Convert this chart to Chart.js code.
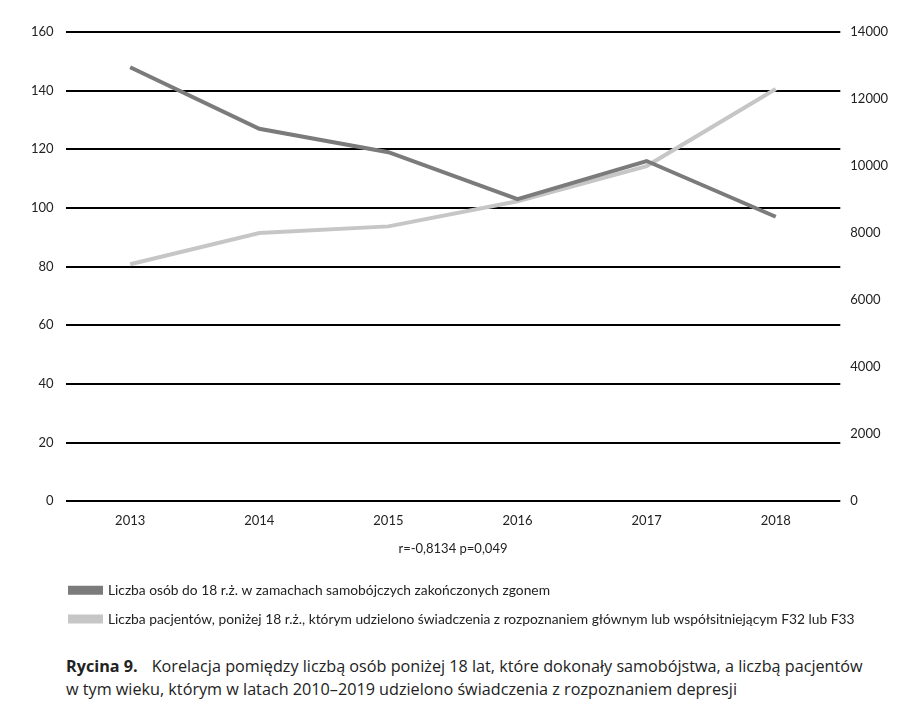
<!DOCTYPE html>
<html>
<head>
<meta charset="utf-8">
<script src="https://cdn.jsdelivr.net/npm/chart.js@4.4.0/dist/chart.umd.min.js"></script>
<style>
  body { margin: 0; background: #fff; }
  #wrap { position: absolute; left: 0; top: 0; width: 900px; height: 636px; }
  #caption {
    position: absolute; left: 66px; top: 655px; width: 830px;
    font-family: "Open Sans", sans-serif; font-size: 16.2px; line-height: 23px; color: #222;
  }
  #caption b { margin-right: 14px; }
</style>
</head>
<body>
<div id="wrap"><canvas id="chart"></canvas></div>
<div id="caption"><b>Rycina 9.</b>Korelacja pomiędzy liczbą osób poniżej 18 lat, które dokonały samobójstwa, a liczbą pacjentów<br>w tym wieku, którym w latach 2010–2019 udzielono świadczenia z rozpoznaniem depresji</div>
<script>
const years = ["2013", "2014", "2015", "2016", "2017", "2018"];
const suicides = [148, 127, 119, 103, 116, 97];
const patients = [7070, 8000, 8200, 8950, 10000, 12300];
const leftTicks = [0, 20, 40, 60, 80, 100, 120, 140, 160];
const rightTicks = [0, 2000, 4000, 6000, 8000, 10000, 12000, 14000];

const tickFont = { family: "Lato, sans-serif", size: 13 };
const legendFont = { family: "Lato, sans-serif", size: 13.8 };

// move the legend block right so its samples line up under the plot
const legendShift = {
  id: "legendShift",
  afterLayout(chart) {
    const lg = chart.legend;
    const dx = 70 - (lg.left + lg.options.labels.padding);
    lg.left += dx;
    lg.right += dx;
  },
};

const ctx = document.getElementById("chart").getContext("2d");
new Chart(ctx, {
  type: "line",
  data: {
    labels: years,
    datasets: [
      {
        label: "Liczba osób do 18 r.ż. w zamachach samobójczych zakończonych zgonem",
        data: suicides,
        yAxisID: "y",
        borderColor: "#7b7b7b",
        backgroundColor: "#7b7b7b",
        borderWidth: 4,
        pointRadius: 0,
        tension: 0,
      },
      {
        label: "Liczba pacjentów, poniżej 18 r.ż., którym udzielono świadczenia z rozpoznaniem głównym lub współsitniejącym F32 lub F33",
        data: patients,
        yAxisID: "y1",
        borderColor: "#c6c6c6",
        backgroundColor: "#c6c6c6",
        borderWidth: 4,
        pointRadius: 0,
        tension: 0,
      },
    ],
  },
  plugins: [legendShift],
  options: {
    responsive: true,
    maintainAspectRatio: false,
    animation: false,
    layout: { padding: { top: 32, left: 19, right: 2, bottom: 0 } },
    plugins: {
      tooltip: { enabled: false },
      legend: {
        position: "bottom",
        align: "start",
        labels: {
          font: legendFont,
          color: "#222",
          boxWidth: 31,
          boxHeight: 5,
          padding: 15,
        },
      },
    },
    scales: {
      x: {
        offset: true,
        grid: { display: false, drawTicks: false },
        border: { display: false },
        ticks: { font: tickFont, color: "#222", padding: 12 },
        title: {
          display: true,
          text: "r=-0,8134 p=0,049",
          font: tickFont,
          color: "#222",
          padding: { top: 0, bottom: 12 },
        },
      },
      y: {
        position: "left",
        min: 0,
        max: 160,
        afterBuildTicks: (axis) => { axis.ticks = leftTicks.map((v) => ({ value: v })); },
        grid: { color: "#000", lineWidth: 2, drawTicks: false },
        border: { display: false },
        ticks: { font: tickFont, color: "#222", padding: 12 },
      },
      y1: {
        position: "right",
        min: 0,
        max: 14000,
        afterBuildTicks: (axis) => { axis.ticks = rightTicks.map((v) => ({ value: v })); },
        grid: { display: false, drawTicks: false },
        border: { display: false },
        ticks: { font: tickFont, color: "#222", padding: 10, callback: (v) => String(v) },
      },
    },
  },
});
</script>
</body>
</html>
